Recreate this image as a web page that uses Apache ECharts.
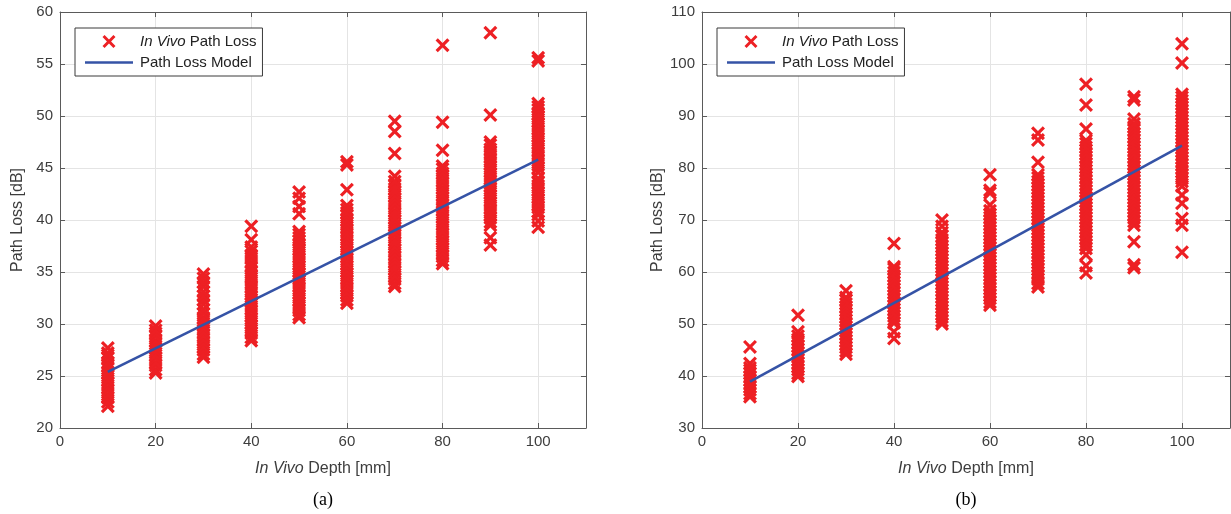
<!DOCTYPE html>
<html>
<head>
<meta charset="utf-8">
<script src="https://cdn.jsdelivr.net/npm/echarts@6/dist/echarts.min.js"></script>
<style>html,body{margin:0;padding:0;background:#fff;}#c{width:1231px;height:514px;}</style>
</head>
<body>
<div id="c"></div>
<script>
// ---------- data ----------
const depths = [10, 20, 30, 40, 50, 60, 70, 80, 90, 100];

// (a) measured path loss [dB] per depth
const lossA10 = [22.1, 22.5, 22.9, 23.2, 23.6, 23.9, 24.3, 24.6, 25.0, 25.3, 25.7, 26.0, 26.3, 26.7, 27.0, 27.2, 27.7];
const lossA20 = [25.3, 25.6, 26.0, 26.3, 26.7, 27.0, 27.4, 27.7, 28.1, 28.4, 28.8, 29.1, 29.4, 29.8];
const lossA30 = [26.8, 27.1, 27.5, 27.8, 28.2, 28.5, 28.9, 29.2, 29.6, 29.9, 30.3, 30.6, 31.0, 31.4, 31.9, 32.3, 32.7, 33.1, 33.6, 34.0, 34.4, 34.8];
const lossA40 = [28.4, 28.7, 29.1, 29.4, 29.8, 30.1, 30.5, 30.8, 31.2, 31.5, 31.9, 32.2, 32.6, 32.9, 33.3, 33.6, 34.0, 34.4, 34.7, 35.1, 35.5, 35.9, 36.3, 36.6, 37.0, 37.4, 38.1, 39.4];
const lossA50 = [30.6, 30.9, 31.3, 31.6, 32.0, 32.3, 32.7, 33.0, 33.4, 33.7, 34.1, 34.4, 34.8, 35.1, 35.5, 35.8, 36.2, 36.5, 36.9, 37.2, 37.6, 38.0, 38.3, 38.6, 38.9, 40.6, 41.3, 42.1, 42.7];
const lossA60 = [32.0, 32.3, 32.7, 33.0, 33.4, 33.7, 34.1, 34.4, 34.8, 35.1, 35.5, 35.8, 36.2, 36.5, 36.9, 37.2, 37.6, 37.9, 38.3, 38.6, 39.0, 39.3, 39.7, 40.0, 40.4, 40.7, 41.0, 41.4, 42.9, 45.3, 45.6];
const lossA70 = [33.6, 33.9, 34.3, 34.6, 35.0, 35.3, 35.7, 36.0, 36.4, 36.7, 37.1, 37.4, 37.8, 38.1, 38.5, 38.8, 39.2, 39.5, 39.9, 40.2, 40.6, 40.9, 41.3, 41.6, 42.0, 42.3, 42.7, 43.0, 43.4, 43.7, 44.2, 46.4, 48.5, 49.5];
const lossA80 = [35.8, 36.1, 36.5, 36.8, 37.2, 37.5, 37.9, 38.2, 38.6, 38.9, 39.3, 39.6, 40.0, 40.3, 40.7, 41.0, 41.4, 41.7, 42.1, 42.4, 42.8, 43.1, 43.5, 43.8, 44.2, 44.5, 44.9, 45.2, 46.7, 49.4, 56.8];
const lossA90 = [37.6, 38.3, 39.5, 39.8, 40.2, 40.5, 40.9, 41.2, 41.6, 41.9, 42.3, 42.6, 43.0, 43.3, 43.7, 44.0, 44.4, 44.7, 45.1, 45.4, 45.8, 46.1, 46.5, 46.8, 47.2, 47.5, 50.1, 58.0];
const lossA100 = [39.3, 39.9, 40.5, 40.8, 41.2, 41.5, 41.9, 42.2, 42.6, 42.9, 43.3, 43.6, 44.0, 44.6, 45.0, 45.3, 45.7, 46.0, 46.4, 46.7, 47.1, 47.4, 47.8, 48.1, 48.5, 48.8, 49.2, 49.5, 49.9, 50.2, 50.6, 50.9, 51.2, 55.3, 55.6];
const modelA = [[10, 25.4], [100, 45.8]];

// (b) measured path loss [dB] per depth
const lossB10 = [36.0, 36.6, 37.3, 37.9, 38.6, 39.2, 39.9, 40.5, 41.1, 41.6, 42.4, 45.6];
const lossB20 = [39.9, 40.5, 41.2, 41.8, 42.5, 43.1, 43.8, 44.4, 45.1, 45.7, 46.4, 47.0, 47.7, 48.5, 51.7];
const lossB30 = [44.2, 44.8, 45.5, 46.1, 46.8, 47.4, 48.1, 48.7, 49.4, 50.0, 50.7, 51.3, 52.0, 52.6, 53.3, 53.9, 54.6, 55.1, 56.4];
const lossB40 = [47.2, 48.5, 50.2, 50.8, 51.5, 52.1, 52.8, 53.4, 54.1, 54.7, 55.4, 56.0, 56.7, 57.3, 58.0, 58.6, 59.3, 59.9, 60.6, 61.0, 65.5];
const lossB50 = [50.0, 50.6, 51.3, 51.9, 52.6, 53.2, 53.9, 54.5, 55.2, 55.8, 56.5, 57.1, 57.8, 58.4, 59.1, 59.7, 60.4, 61.0, 61.7, 62.3, 63.0, 63.6, 64.3, 64.9, 65.6, 66.2, 66.9, 67.6, 68.8, 70.0];
const lossB60 = [53.6, 54.2, 54.9, 55.5, 56.2, 56.8, 57.5, 58.1, 58.8, 59.4, 60.1, 60.7, 61.4, 62.0, 62.7, 63.3, 64.0, 64.6, 65.3, 65.9, 66.6, 67.2, 67.9, 68.5, 69.2, 69.8, 70.5, 71.1, 71.8, 72.9, 75.2, 75.7, 78.7];
const lossB70 = [57.1, 57.8, 58.6, 59.2, 59.9, 60.5, 61.2, 61.8, 62.5, 63.1, 63.8, 64.4, 65.1, 65.7, 66.4, 67.0, 67.7, 68.3, 69.0, 69.6, 70.3, 70.9, 71.6, 72.2, 72.9, 73.5, 74.2, 74.8, 75.5, 76.1, 76.8, 77.4, 78.1, 78.7, 81.1, 85.4, 86.7];
const lossB80 = [59.8, 61.2, 63.3, 64.5, 65.2, 65.8, 66.5, 67.1, 67.8, 68.4, 69.1, 69.7, 70.4, 71.0, 71.7, 72.3, 73.0, 73.6, 74.3, 74.9, 75.6, 76.2, 76.9, 77.5, 78.2, 78.8, 79.5, 80.1, 80.8, 81.4, 82.1, 82.7, 83.4, 84.0, 84.7, 85.3, 87.5, 92.1, 96.1];
const lossB90 = [60.8, 61.4, 65.8, 69.0, 69.7, 70.4, 71.0, 71.7, 72.3, 73.0, 73.6, 74.3, 74.9, 75.6, 76.2, 76.9, 77.5, 78.2, 78.8, 79.5, 80.1, 80.8, 81.4, 82.1, 82.7, 83.4, 84.0, 84.7, 85.3, 86.0, 86.6, 87.3, 87.9, 88.5, 89.4, 93.1, 93.7];
const lossB100 = [63.8, 69.0, 70.3, 73.2, 74.8, 76.5, 77.4, 78.0, 78.7, 79.3, 80.0, 80.6, 81.3, 81.9, 82.6, 83.2, 83.9, 84.5, 85.2, 85.8, 86.5, 87.1, 87.8, 88.4, 89.1, 89.7, 90.4, 91.0, 91.7, 92.3, 93.0, 93.6, 94.2, 100.2, 103.9];
const modelB = [[10, 38.9], [100, 84.3]];

const legendNames = ['In Vivo Path Loss', 'Path Loss Model'];
const xName = '{i|In Vivo} Depth [mm]';
const yName = 'Path Loss [dB]';
const panelLabels = ['(a)', '(b)'];

// ---------- build ----------
const colsA = [lossA10, lossA20, lossA30, lossA40, lossA50, lossA60, lossA70, lossA80, lossA90, lossA100];
const colsB = [lossB10, lossB20, lossB30, lossB40, lossB50, lossB60, lossB70, lossB80, lossB90, lossB100];
function pairs(cols) {
  const out = [];
  cols.forEach((arr, i) => arr.forEach(v => out.push([depths[i], v])));
  return out;
}

const RED = '#ED2024';
const BLUE = '#3553A6';
const AXC = '#5a5a5a';
const TXT = '#3d3d3d';
const GRIDC = '#e4e4e4';
const FONT = '"Liberation Sans", Arial, Helvetica, sans-serif';
const XPATH = 'path://M0,1.6L1.6,0L5,3.4L8.4,0L10,1.6L6.6,5L10,8.4L8.4,10L5,6.6L1.6,10L0,8.4L3.4,5Z';
const LINEPATH = 'path://M0,0L48,0L48,2.4L0,2.4Z';

const grids = [
  { left: 60, top: 12, width: 526, height: 416 },
  { left: 702, top: 12, width: 528, height: 416 }
];
const yRanges = [{ min: 20, max: 60, interval: 5 }, { min: 30, max: 110, interval: 10 }];

const xAxes = [], yAxes = [];
grids.forEach((g, gi) => {
  xAxes.push({
    type: 'value', gridIndex: gi, position: 'bottom', min: 0, max: 110, interval: 20,
    axisLine: { show: true, onZero: false, lineStyle: { color: AXC, width: 1 } },
    axisTick: { show: true, inside: true, length: 5, lineStyle: { color: AXC } },
    axisLabel: { color: TXT, fontSize: 15, fontFamily: FONT, margin: 6, showMaxLabel: false },
    splitLine: { show: true, lineStyle: { color: GRIDC, width: 1 } },
    name: xName, nameLocation: 'middle', nameGap: 33,
    nameTextStyle: { color: TXT, fontSize: 16, fontFamily: FONT,
      rich: { i: { fontStyle: 'italic', color: TXT, fontSize: 16, fontFamily: FONT } } }
  });
  xAxes.push({
    type: 'value', gridIndex: gi, position: 'top', min: 0, max: 110, interval: 20,
    axisLine: { show: true, onZero: false, lineStyle: { color: AXC, width: 1 } },
    axisTick: { show: true, inside: true, length: 5, lineStyle: { color: AXC } },
    axisLabel: { show: false }, splitLine: { show: false }
  });
  const yr = yRanges[gi];
  yAxes.push({
    type: 'value', gridIndex: gi, position: 'left', min: yr.min, max: yr.max, interval: yr.interval,
    axisLine: { show: true, onZero: false, lineStyle: { color: AXC, width: 1 } },
    axisTick: { show: true, inside: true, length: 5, lineStyle: { color: AXC } },
    axisLabel: { color: TXT, fontSize: 15, fontFamily: FONT, margin: 7 },
    splitLine: { show: true, lineStyle: { color: GRIDC, width: 1 } },
    name: yName, nameLocation: 'middle', nameGap: 34,
    nameTextStyle: { color: TXT, fontSize: 16, fontFamily: FONT }
  });
  yAxes.push({
    type: 'value', gridIndex: gi, position: 'right', min: yr.min, max: yr.max, interval: yr.interval,
    axisLine: { show: true, onZero: false, lineStyle: { color: AXC, width: 1 } },
    axisTick: { show: true, inside: true, length: 5, lineStyle: { color: AXC } },
    axisLabel: { show: false }, splitLine: { show: false }
  });
});

const series = [];
[[colsA, modelA], [colsB, modelB]].forEach(([cols, model], gi) => {
  series.push({
    type: 'scatter', name: legendNames[0], xAxisIndex: gi * 2, yAxisIndex: gi * 2,
    symbol: XPATH, symbolSize: 14, itemStyle: { color: RED, opacity: 1 },
    data: pairs(cols), silent: true, z: 2
  });
  series.push({
    type: 'line', name: legendNames[1], xAxisIndex: gi * 2, yAxisIndex: gi * 2,
    showSymbol: false, symbol: 'none', lineStyle: { color: BLUE, width: 2.6 },
    itemStyle: { color: BLUE }, data: model, silent: true, z: 3
  });
});

const legendBase = {
  orient: 'vertical', top: 28, itemWidth: 48, itemHeight: 13, itemGap: 6,
  padding: [6, 6, 6, 10], borderColor: '#3a3a3a', borderWidth: 1, backgroundColor: '#fff',
  selectedMode: false, symbolKeepAspect: true,
  data: [{ name: legendNames[0], icon: XPATH }, { name: legendNames[1], icon: LINEPATH }],
  formatter: n => n === legendNames[0] ? '{i|In Vivo} Path Loss' : n,
  textStyle: { color: '#222', fontSize: 15, fontFamily: FONT, padding: [0, 0, 0, 2],
    rich: { i: { fontStyle: 'italic', color: '#222', fontSize: 15, fontFamily: FONT } } }
};

const option = {
  backgroundColor: '#fff',
  animation: false,
  grid: grids,
  xAxis: xAxes,
  yAxis: yAxes,
  legend: [Object.assign({}, legendBase, { left: 75 }), Object.assign({}, legendBase, { left: 717 })],
  series: series,
  graphic: [
    { type: 'text', x: 323, y: 500, style: { text: panelLabels[0], align: 'center', verticalAlign: 'middle', font: '18px "Liberation Serif", "Times New Roman", serif', fill: '#000' } },
    { type: 'text', x: 966, y: 500, style: { text: panelLabels[1], align: 'center', verticalAlign: 'middle', font: '18px "Liberation Serif", "Times New Roman", serif', fill: '#000' } }
  ]
};
const chart = echarts.init(document.getElementById('c'), null, { renderer: 'canvas' });
chart.setOption(option);
</script>
</body>
</html>
